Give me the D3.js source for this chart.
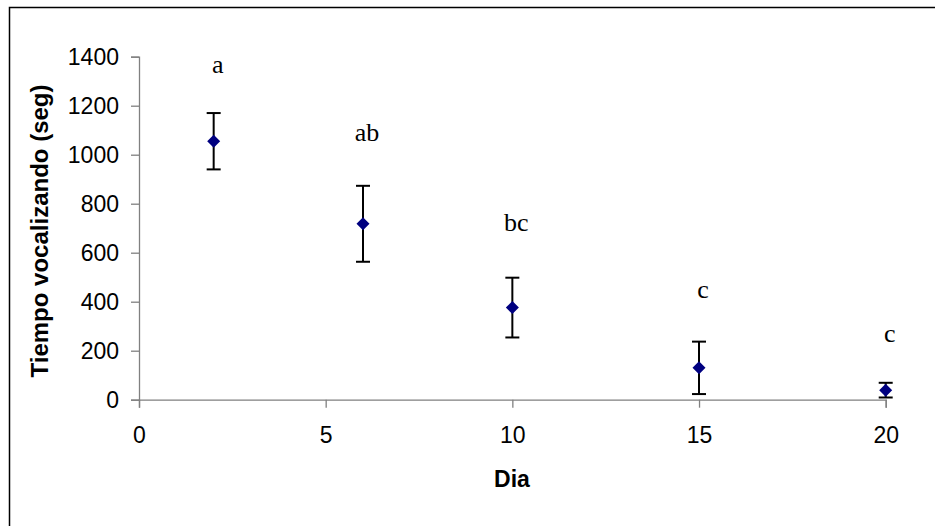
<!DOCTYPE html>
<html>
<head>
<meta charset="utf-8">
<script src="https://cdn.jsdelivr.net/npm/d3@7/dist/d3.min.js"></script>
<style>
  html, body { margin: 0; padding: 0; background: #fff; }
  svg { display: block; }
</style>
</head>
<body>
<svg id="chart" width="935" height="526"></svg>
<script>
// Data
const days = [2, 6, 10, 15, 20];
const meanTime = [1055, 718, 376, 130, 39];
const errTime = [115, 155, 122, 107, 30];
const groupLetters = ["a", "ab", "bc", "c", "c"];
const letterHeights = [1335, 1055, 688, 414, 235];
const xTicks = [0, 5, 10, 15, 20];
const yTicks = [0, 200, 400, 600, 800, 1000, 1200, 1400];
const xTitle = "Dia";
const yTitle = "Tiempo vocalizando (seg)";

const svg = d3.select("#chart");

// outer chart border (right/bottom cut off)
svg.append("rect")
  .attr("x", 9.5).attr("y", 7.5)
  .attr("width", 1000).attr("height", 600)
  .attr("fill", "none").attr("stroke", "#000").attr("stroke-width", 1.5);

const x = d3.scaleLinear().domain([0, 20]).range([139, 885.7]);
const y = d3.scaleLinear().domain([0, 1400]).range([399.7, 56.7]);

const axisColor = "#808080";
const sans = "'Liberation Sans', Arial, sans-serif";

// Y axis
const yAxis = svg.append("g")
  .attr("transform", `translate(${x(0)},0)`)
  .call(d3.axisLeft(y).tickValues(yTicks).tickSize(8).tickPadding(12).tickFormat(d3.format("d")));
yAxis.select(".domain").attr("stroke", axisColor).attr("stroke-width", 1.3);
yAxis.selectAll(".tick line").attr("stroke", axisColor).attr("stroke-width", 1.3);
yAxis.selectAll(".tick text")
  .attr("fill", "#000")
  .style("font-family", sans)
  .style("font-size", "23px");

// X axis
const xAxis = svg.append("g")
  .attr("transform", `translate(0,${y(0)})`)
  .call(d3.axisBottom(x).tickValues(xTicks).tickSize(8).tickPadding(19).tickFormat(d3.format("d")));
xAxis.select(".domain").attr("stroke", axisColor).attr("stroke-width", 1.3);
xAxis.selectAll(".tick line").attr("stroke", axisColor).attr("stroke-width", 1.3);
xAxis.selectAll(".tick text")
  .attr("fill", "#000")
  .style("font-family", sans)
  .style("font-size", "23px");

// Axis titles
svg.append("text")
  .attr("x", 512).attr("y", 487)
  .attr("text-anchor", "middle")
  .style("font-family", sans)
  .style("font-size", "23px").style("font-weight", "bold")
  .text(xTitle);

svg.append("text")
  .attr("transform", "translate(47.5,231) rotate(-90)")
  .attr("text-anchor", "middle")
  .style("font-family", sans)
  .style("font-size", "24px").style("font-weight", "bold")
  .text(yTitle);

const data = days.map((d, i) => ({ day: d, mean: meanTime[i], err: errTime[i], letter: groupLetters[i], ly: letterHeights[i] }));

// Error bars
const eb = svg.append("g").selectAll("g").data(data).join("g");
eb.append("line")
  .attr("x1", d => x(d.day)).attr("x2", d => x(d.day))
  .attr("y1", d => y(d.mean + d.err)).attr("y2", d => y(Math.max(0, d.mean - d.err)))
  .attr("stroke", "#000").attr("stroke-width", 2);
eb.append("line")
  .attr("x1", d => x(d.day) - 7).attr("x2", d => x(d.day) + 7)
  .attr("y1", d => y(d.mean + d.err)).attr("y2", d => y(d.mean + d.err))
  .attr("stroke", "#000").attr("stroke-width", 2);
eb.append("line")
  .attr("x1", d => x(d.day) - 7).attr("x2", d => x(d.day) + 7)
  .attr("y1", d => y(Math.max(0, d.mean - d.err))).attr("y2", d => y(Math.max(0, d.mean - d.err)))
  .attr("stroke", "#000").attr("stroke-width", 2);

// Diamond markers
svg.append("g").selectAll("path").data(data).join("path")
  .attr("transform", d => `translate(${x(d.day)},${y(d.mean)})`)
  .attr("d", "M0,-6.5L6.5,0L0,6.5L-6.5,0Z")
  .attr("fill", "#000080");

// Letter annotations
svg.append("g").selectAll("text").data(data).join("text")
  .attr("x", d => x(d.day) + 4)
  .attr("y", d => y(d.ly))
  .attr("text-anchor", "middle")
  .style("font-family", "'Liberation Serif', 'Times New Roman', serif")
  .style("font-size", "26px")
  .attr("fill", "#000")
  .text(d => d.letter);
</script>
</body>
</html>
